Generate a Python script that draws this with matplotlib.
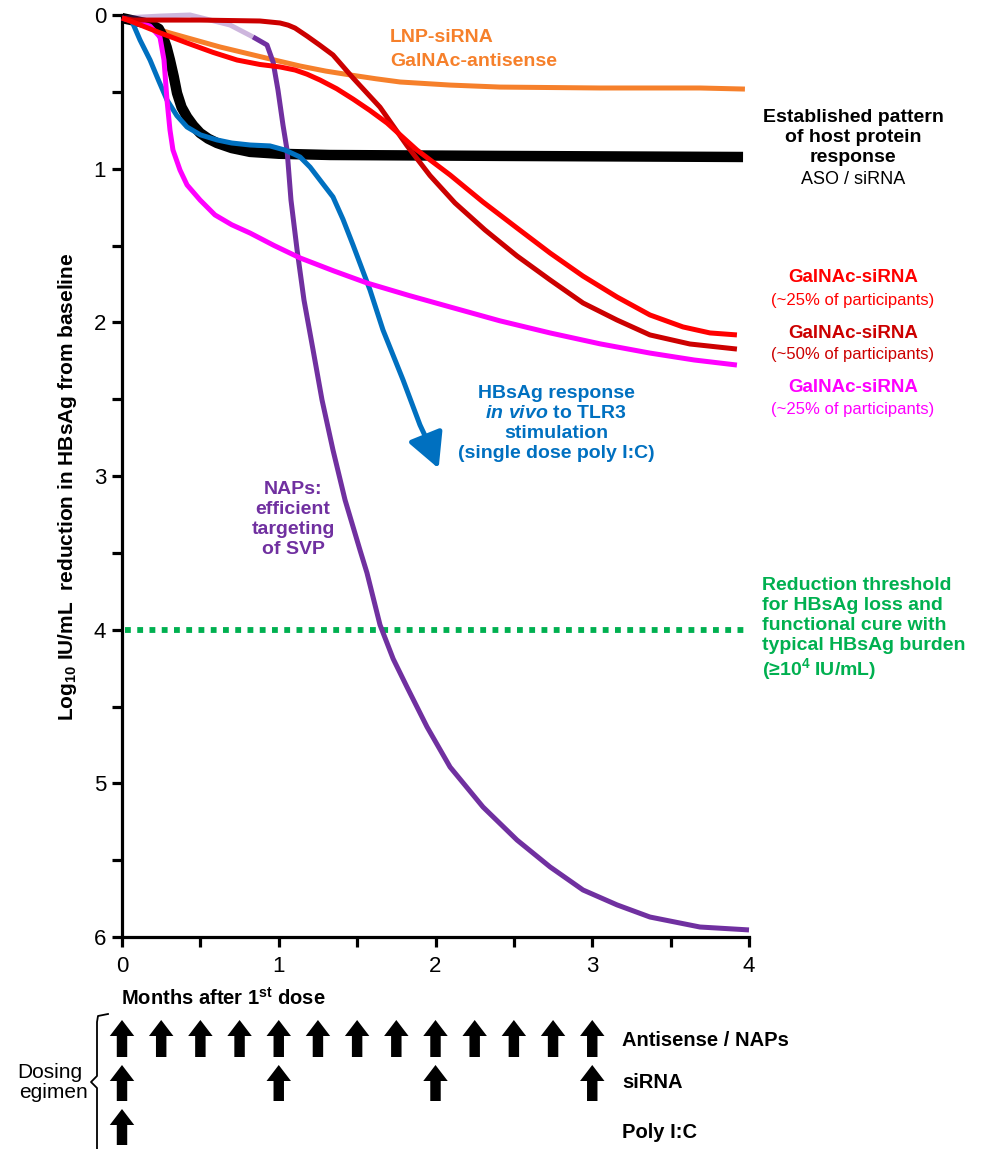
import matplotlib
matplotlib.use('Agg')
import matplotlib.pyplot as plt
from matplotlib.transforms import blended_transform_factory
from matplotlib.lines import Line2D

# ---------------- data ----------------
black_x = [0, 0.179, 0.235, 0.262, 0.285, 0.306, 0.33, 0.351, 0.38, 0.415, 0.455, 0.498, 0.55,
           0.606, 0.7, 0.817, 1.0, 1.327, 2.411, 3.962]
black_y = [0.02, 0.059, 0.09, 0.143, 0.21, 0.293, 0.4, 0.508, 0.6, 0.664, 0.72, 0.768, 0.805,
           0.833, 0.866, 0.891, 0.903, 0.911, 0.917, 0.924]

orange_x = [0, 0.306, 0.625, 0.944, 1.136, 1.3, 1.455, 1.62, 1.774, 2.093, 2.411, 3.049, 3.687, 3.974]
orange_y = [0.02, 0.117, 0.208, 0.286, 0.332, 0.365, 0.39, 0.415, 0.436, 0.456, 0.469, 0.475, 0.475, 0.482]

magenta_x = [0, 0.179, 0.242, 0.268, 0.287, 0.306, 0.325, 0.37, 0.415, 0.498, 0.593, 0.7, 0.817,
             0.97, 1.136, 1.35, 1.563, 1.83, 2.093, 2.41, 2.731, 3.05, 3.368, 3.65, 3.923]
magenta_y = [0.02, 0.072, 0.143, 0.293, 0.553, 0.748, 0.878, 1.009, 1.106, 1.204, 1.301, 1.365,
             1.419, 1.5, 1.581, 1.665, 1.744, 1.825, 1.9, 1.99, 2.069, 2.14, 2.2, 2.245, 2.278]

blue_x = [0.057, 0.115, 0.179, 0.235, 0.287, 0.35, 0.415, 0.5, 0.606, 0.7, 0.817, 0.944, 1.04,
          1.136, 1.2, 1.263, 1.346, 1.41, 1.474, 1.582, 1.665, 1.793, 1.901, 1.952]
blue_y = [0.026, 0.163, 0.293, 0.43, 0.553, 0.655, 0.729, 0.78, 0.813, 0.833, 0.846, 0.852, 0.879,
          0.924, 0.99, 1.074, 1.184, 1.33, 1.497, 1.789, 2.05, 2.375, 2.668, 2.779]
blue_tip = (2.02, 2.951)

purple_x = [0, 0.242, 0.434, 0.689, 0.836, 0.925, 0.964, 0.995, 1.027, 1.053, 1.078, 1.117,
            1.161, 1.219, 1.276, 1.346, 1.423, 1.518, 1.563, 1.646, 1.73, 1.818, 1.946, 2.093,
            2.303, 2.52, 2.731, 2.941, 3.158, 3.368, 3.687, 4.0]
purple_y = [0.02, 0.007, 0.0, 0.065, 0.143, 0.195, 0.306, 0.488, 0.716, 0.879, 1.204, 1.529,
            1.855, 2.18, 2.505, 2.831, 3.156, 3.481, 3.631, 3.969, 4.19, 4.373, 4.633, 4.894,
            5.154, 5.369, 5.544, 5.694, 5.791, 5.87, 5.935, 5.954]

red_x = [0, 0.07, 0.24, 0.415, 0.58, 0.734, 0.88, 1.008, 1.104, 1.18, 1.263, 1.37, 1.474, 1.58,
         1.691, 1.882, 2.093, 2.303, 2.52, 2.731, 2.941, 3.158, 3.368, 3.579, 3.751, 3.923]
red_y = [0.02, 0.046, 0.115, 0.182, 0.243, 0.293, 0.322, 0.338, 0.358, 0.385, 0.423, 0.48, 0.547,
         0.62, 0.703, 0.879, 1.041, 1.217, 1.386, 1.549, 1.699, 1.835, 1.952, 2.03, 2.069, 2.082]

darkred_x = [0, 0.07, 0.498, 0.88, 1.008, 1.06, 1.104, 1.18, 1.26, 1.346, 1.474, 1.646, 1.818,
             1.965, 2.124, 2.316, 2.52, 2.731, 2.941, 3.158, 3.368, 3.623, 3.923]
darkred_y = [0.02, 0.033, 0.033, 0.039, 0.052, 0.066, 0.085, 0.137, 0.195, 0.26, 0.41, 0.6, 0.85,
             1.045, 1.223, 1.399, 1.568, 1.724, 1.874, 1.985, 2.082, 2.141, 2.174]

threshold = 4.0

antisense_doses = [0, 0.25, 0.5, 0.75, 1.0, 1.25, 1.5, 1.75, 2.0, 2.25, 2.5, 2.75, 3.0]
sirna_doses = [0, 1, 2, 3]
polyic_doses = [0]

# ---------------- style ----------------
plt.rcParams['font.family'] = ['Liberation Sans', 'DejaVu Sans']
plt.rcParams['mathtext.fontset'] = 'custom'
plt.rcParams['mathtext.rm'] = 'Liberation Sans'
plt.rcParams['mathtext.bf'] = 'Liberation Sans:bold'
plt.rcParams['mathtext.it'] = 'Liberation Sans:italic:bold'

C_ORANGE = '#f6802b'
C_RED = '#ff0000'
C_DRED = '#cc0000'
C_MAG = '#ff00ff'
C_BLUE = '#0070c0'
C_PURP = '#7030a0'
C_GREEN = '#00b050'

W, H = 981, 1149
fig = plt.figure(figsize=(W / 100, H / 100), dpi=100)
ax = fig.add_axes([122 / W, 1 - 937 / H, 627 / W, 922 / H])

LW = 3.6
common = dict(solid_joinstyle='round', solid_capstyle='butt', clip_on=False)
ax.plot(orange_x, orange_y, color=C_ORANGE, lw=LW, zorder=2, **common)
ax.plot(black_x, black_y, color='black', lw=7.5, zorder=3, **common)
ax.plot(purple_x[:5], purple_y[:5], color=C_PURP, lw=LW, alpha=0.35, zorder=4, **common)
ax.plot(purple_x[4:], purple_y[4:], color=C_PURP, lw=LW, zorder=4, **common)
ax.plot(blue_x, blue_y, color=C_BLUE, lw=LW, zorder=5, **common)
ax.annotate('', xy=blue_tip, xytext=(blue_x[-1], blue_y[-1]),
            arrowprops=dict(arrowstyle='-|>,head_length=1.05,head_width=0.55', color=C_BLUE,
                            lw=LW, shrinkA=0, shrinkB=0, mutation_scale=20),
            annotation_clip=False, zorder=5)
ax.plot(magenta_x, magenta_y, color=C_MAG, lw=LW, zorder=6, **common)
ax.plot(darkred_x, darkred_y, color=C_DRED, lw=LW, zorder=7, **common)
ax.plot(red_x, red_y, color=C_RED, lw=LW, zorder=8, **common)
ax.plot([0.02, 4.0], [threshold, threshold], color=C_GREEN, lw=4.2,
        linestyle=(0, (1, 1.1)), dash_capstyle='butt', clip_on=False, zorder=2)

ax.set_xlim(0, 4)
ax.set_ylim(6, 0)
ax.set_yticks([v / 2 for v in range(13)])
ax.set_yticklabels([str(v // 2) if v % 2 == 0 else '' for v in range(13)])
ax.set_xticks([v / 2 for v in range(9)])
ax.set_xticklabels([str(v // 2) if v % 2 == 0 else '' for v in range(9)])
for s in ['top', 'right']:
    ax.spines[s].set_visible(False)
for s in ['left', 'bottom']:
    ax.spines[s].set_linewidth(2.3)
ax.tick_params(axis='both', direction='out', length=7.5, width=2.3, labelsize=16, color='black')
ax.tick_params(axis='x', pad=6)
ax.tick_params(axis='y', pad=4)


def ptext(px, py, s, **kw):
    kw.setdefault('va', 'center')
    kw.setdefault('fontsize', 14)
    fig.text(px / W, 1 - py / H, s, **kw)


# y label
ptext(68, 487, r'Log$_{\mathbf{10}}$ IU/mL  reduction in HBsAg from baseline', rotation=90,
      ha='center', fontweight='bold', fontsize=15)
# x label
ptext(121, 998, r'Months after 1$^{\mathbf{st}}$ dose', ha='left', fontweight='bold', fontsize=14.5)

# curve annotations
ptext(390, 38, 'LNP-siRNA', ha='left', fontweight='bold', color=C_ORANGE)
ptext(390, 62, 'GalNAc-antisense', ha='left', fontweight='bold', color=C_ORANGE)

ptext(853, 118, 'Established pattern', ha='center', fontweight='bold')
ptext(853, 138, 'of host protein', ha='center', fontweight='bold')
ptext(853, 158, 'response', ha='center', fontweight='bold')
ptext(853, 180, 'ASO / siRNA', ha='center', fontsize=13)

ptext(853, 278, 'GalNAc-siRNA', ha='center', fontweight='bold', fontsize=13.5, color=C_RED)
ptext(853, 300, '(~25% of participants)', ha='center', fontsize=12, color=C_RED)
ptext(853, 333, 'GalNAc-siRNA', ha='center', fontweight='bold', fontsize=13.5, color=C_DRED)
ptext(853, 355, '(~50% of participants)', ha='center', fontsize=12, color=C_DRED)
ptext(853, 387, 'GalNAc-siRNA', ha='center', fontweight='bold', fontsize=13.5, color=C_MAG)
ptext(853, 410, '(~25% of participants)', ha='center', fontsize=12, color=C_MAG)

ptext(556, 393, 'HBsAg response', ha='center', fontweight='bold', color=C_BLUE)
ptext(556, 413, r'$\mathit{in\ vivo}$ to TLR3', ha='center', fontweight='bold', color=C_BLUE)
ptext(556, 433, 'stimulation', ha='center', fontweight='bold', color=C_BLUE)
ptext(556, 453, '(single dose poly I:C)', ha='center', fontweight='bold', color=C_BLUE)

ptext(293, 490, 'NAPs:', ha='center', fontweight='bold', color=C_PURP)
ptext(293, 510, 'efficient', ha='center', fontweight='bold', color=C_PURP)
ptext(293, 530, 'targeting', ha='center', fontweight='bold', color=C_PURP)
ptext(293, 550, 'of SVP', ha='center', fontweight='bold', color=C_PURP)

ptext(762, 585, 'Reduction threshold', ha='left', fontweight='bold', color=C_GREEN)
ptext(762, 605, 'for HBsAg loss and', ha='left', fontweight='bold', color=C_GREEN)
ptext(762, 625, 'functional cure with', ha='left', fontweight='bold', color=C_GREEN)
ptext(762, 645, 'typical HBsAg burden', ha='left', fontweight='bold', color=C_GREEN)
ptext(762, 669, r'(≥10$^{\mathbf{4}}$ IU/mL)', ha='left', fontweight='bold', color=C_GREEN)

# dosing regimen
bt = blended_transform_factory(ax.transData, fig.transFigure)
rows = [(antisense_doses, 1020, 1057), (sirna_doses, 1065, 1101), (polyic_doses, 1109, 1145)]
for doses, ytop, ybot in rows:
    for d in doses:
        ax.annotate('', xy=(d, 1 - ytop / H), xytext=(d, 1 - ybot / H), xycoords=bt, textcoords=bt,
                    arrowprops=dict(arrowstyle='simple,head_length=0.72,head_width=1.1,tail_width=0.47',
                                    fc='black', ec='black', lw=0, shrinkA=0, shrinkB=0,
                                    mutation_scale=16),
                    annotation_clip=False)

ptext(622, 1040, 'Antisense / NAPs', ha='left', fontweight='bold', fontsize=14.5)
ptext(622, 1083, 'siRNA', ha='left', fontweight='bold', fontsize=14.5)
ptext(622, 1132, 'Poly I:C', ha='left', fontweight='bold', fontsize=14.5)

bx = [108, 98, 97, 97, 91, 97, 97]
by = [1014, 1016, 1022, 1076, 1082, 1088, 1149]
fig.add_artist(Line2D([v / W for v in bx], [1 - v / H for v in by], color='black', lw=1.3,
                      transform=fig.transFigure))
ptext(50, 1072, 'Dosing', ha='center', fontsize=15)
ptext(88, 1092, 'egimen', ha='right', fontsize=15)

fig.savefig('out.png', dpi=100)
